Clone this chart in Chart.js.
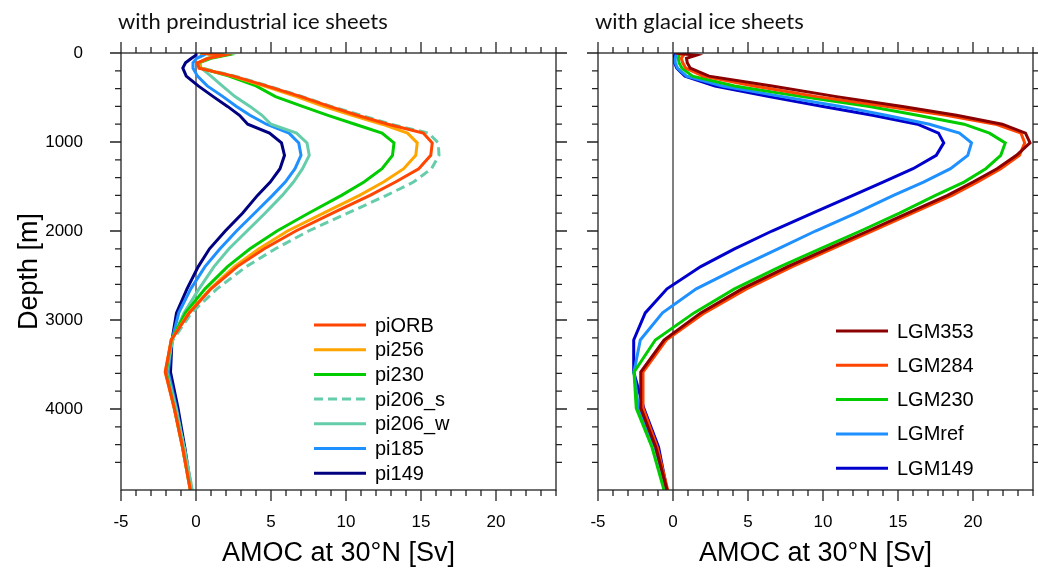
<!DOCTYPE html>
<html>
<head>
<meta charset="utf-8">
<script src="https://cdn.jsdelivr.net/npm/chart.js@4.4.1/dist/chart.umd.min.js"></script>
<style>
  body { margin: 0; background: #fff; }
  #wrap { position: relative; width: 1038px; height: 574px; overflow: hidden; }
  canvas { position: absolute; top: 0; }
  #left { left: 0; }
  #right { left: 458px; }
</style>
</head>
<body>
<div id="wrap">
  <canvas id="left" width="580" height="574"></canvas>
  <canvas id="right" width="600" height="574"></canvas>
</div>
<script>
// depth levels [m] shared by all profiles
var depthLevels = [0, 25, 60, 110, 170, 260, 370, 490, 600, 700, 800, 900, 1010, 1150,
                   1300, 1450, 1600, 1800, 2000, 2200, 2400, 2650, 2920, 3225, 3585, 3990, 4430, 4910];

// AMOC at 30N [Sv], preindustrial ice sheets
var piORB   = [0.3, 1.8, 0.8, 0.1, 0.2, 2.5, 4.7, 7.0, 8.9, 10.75, 12.8, 15.15, 15.75, 15.65, 14.85, 13.3, 11.6, 9.1, 6.65, 4.55, 2.75, 1.0, -0.45, -1.65, -2.05, -1.45, -0.9, -0.38];
var pi256   = [0.3, 1.7, 0.8, 0.15, 0.3, 2.4, 4.5, 6.7, 8.5, 10.4, 12.4, 14.1, 14.75, 14.65, 13.85, 12.5, 10.9, 8.5, 6.1, 4.2, 2.55, 0.95, -0.5, -1.65, -2.05, -1.45, -0.9, -0.38];
var pi230   = [0.4, 2.0, 1.0, 0.2, 0.3, 2.2, 4.0, 5.3, 7.1, 8.8, 10.6, 12.4, 13.2, 13.1, 12.4, 11.2, 9.7, 7.5, 5.4, 3.6, 2.1, 0.6, -0.7, -1.65, -2.0, -1.45, -0.9, -0.38];
var pi206_s = [0.3, 1.8, 0.8, 0.2, 0.4, 2.6, 4.8, 7.1, 9.0, 11.0, 13.0, 15.5, 16.15, 16.2, 15.7, 14.5, 12.7, 10.1, 7.5, 5.3, 3.35, 1.4, -0.3, -1.55, -2.0, -1.35, -0.8, -0.25];
var pi206_w = [0.3, 1.7, 0.7, 0.2, 0.35, 1.0, 1.75, 2.6, 3.6, 4.4, 5.0, 6.7, 7.4, 7.55, 7.1, 6.5, 5.75, 4.6, 3.4, 2.2, 1.2, 0.2, -0.8, -1.6, -1.95, -1.35, -0.8, -0.25];
var pi185   = [0.3, 0.5, 0.05, -0.2, -0.2, 0.1, 0.75, 1.8, 2.7, 3.6, 4.7, 6.2, 6.85, 7.0, 6.6, 5.95, 5.1, 3.9, 2.7, 1.6, 0.6, -0.35, -1.15, -1.6, -1.85, -1.3, -0.8, -0.3];
var pi149   = [0.0, 0.0, -0.3, -0.7, -0.88, -0.65, 0.15, 1.15, 2.1, 2.9, 3.45, 4.9, 5.7, 5.9, 5.6, 4.95, 4.1, 3.1, 1.95, 0.9, 0.15, -0.6, -1.3, -1.6, -1.7, -1.2, -0.75, -0.3];

// AMOC at 30N [Sv], glacial ice sheets
var LGM353 = [0.15, 1.55, 0.9, 0.95, 1.15, 2.4, 6.6, 10.9, 15.3, 18.9, 21.95, 23.5, 23.8, 22.9, 21.6, 20.0, 18.3, 15.65, 13.0, 10.3, 7.65, 4.6, 1.85, -0.6, -2.15, -2.15, -1.15, -0.4];
var LGM284 = [0.35, 0.7, 0.55, 0.65, 0.85, 2.0, 5.4, 9.6, 14.3, 18.2, 21.5, 23.2, 23.45, 23.1, 21.85, 20.3, 18.6, 15.95, 13.3, 10.6, 7.95, 4.9, 2.1, -0.45, -2.0, -2.0, -1.05, -0.35];
var LGM230 = [0.45, 0.4, 0.35, 0.4, 0.6, 1.3, 4.1, 8.6, 13.1, 16.3, 19.4, 21.1, 22.15, 21.85, 20.85, 19.4, 17.5, 15.1, 12.5, 9.8, 7.15, 4.1, 1.4, -1.18, -2.6, -2.45, -1.4, -0.6];
var LGMref = [0.3, 0.2, 0.15, 0.15, 0.3, 0.9, 3.3, 7.3, 11.2, 14.2, 17.1, 19.1, 19.9, 19.65, 18.5, 16.7, 14.7, 12.2, 9.5, 7.0, 4.5, 1.55, -0.7, -2.18, -2.6, -2.3, -1.2, -0.4];
var LGM149 = [0.2, 0.1, 0.1, 0.1, 0.25, 0.8, 2.8, 6.4, 10.0, 13.3, 16.3, 17.7, 18.05, 17.55, 16.0, 14.0, 12.0, 9.3, 6.6, 4.1, 1.85, -0.4, -1.85, -2.62, -2.62, -1.95, -0.96, -0.4];

var amocRange = [-5, 24];
var xMajorEvery = 5;
var yMajorEvery = 1000;
var sansFont = '"Liberation Sans", Arial, sans-serif';

function profile(values) {
  return values.map(function(v, i) { return { x: v, y: depthLevels[i] }; });
}

function line(label, values, color, dash) {
  return {
    label: label,
    data: profile(values),
    borderColor: color,
    backgroundColor: color,
    borderWidth: 3,
    borderDash: dash || [],
    showLine: true,
    pointRadius: 0,
    tension: 0
  };
}

// frame, zero line and outward ticks on all four sides (NCL look)
var ncarFrame = {
  id: 'ncarFrame',
  beforeDatasetsDraw: function(chart) {
    var ctx = chart.ctx, a = chart.chartArea;
    var x0 = chart.scales.x.getPixelForValue(0);
    ctx.save();
    ctx.strokeStyle = '#000';
    ctx.lineWidth = 1;
    ctx.beginPath();
    ctx.moveTo(x0, a.top);
    ctx.lineTo(x0, a.bottom);
    ctx.stroke();
    ctx.restore();
  },
  afterDatasetsDraw: function(chart) {
    var ctx = chart.ctx, a = chart.chartArea;
    var xs = chart.scales.x, ys = chart.scales.y;
    ctx.save();
    ctx.strokeStyle = '#222';
    ctx.lineWidth = 1.3;
    ctx.strokeRect(a.left, a.top, a.right - a.left, a.bottom - a.top);
    ctx.beginPath();
    xs.ticks.forEach(function(t) {
      if (t.value !== Math.round(t.value)) return;
      var len = t.value % xMajorEvery === 0 ? 11 : 6;
      var px = xs.getPixelForValue(t.value);
      ctx.moveTo(px, a.bottom); ctx.lineTo(px, a.bottom + len);
      ctx.moveTo(px, a.top); ctx.lineTo(px, a.top - len);
    });
    ys.ticks.forEach(function(t) {
      if (t.value % 200 !== 0) return;
      var len = t.value % yMajorEvery === 0 ? 11 : 6;
      var py = ys.getPixelForValue(t.value);
      ctx.moveTo(a.left, py); ctx.lineTo(a.left - len, py);
      ctx.moveTo(a.right, py); ctx.lineTo(a.right + len, py);
    });
    ctx.stroke();
    ctx.restore();
  },
  afterDraw: function(chart, args, opts) {
    var ctx = chart.ctx, a = chart.chartArea;
    ctx.save();
    // panel title
    ctx.fillStyle = '#111';
    ctx.font = '22px Lato';
    ctx.textBaseline = 'middle';
    ctx.textAlign = 'left';
    ctx.fillText(opts.title, a.left - 3, 22);
    // legend inside the plot
    ctx.font = '20px ' + sansFont;
    chart.data.datasets.forEach(function(ds, i) {
      var y = a.top + opts.legendTop + i * opts.legendStep;
      var x = a.left + opts.legendLeft;
      ctx.strokeStyle = ds.borderColor;
      ctx.lineWidth = 3;
      ctx.setLineDash(ds.borderDash);
      ctx.beginPath();
      ctx.moveTo(x, y);
      ctx.lineTo(x + 52, y);
      ctx.stroke();
      ctx.setLineDash([]);
      ctx.fillStyle = '#000';
      ctx.fillText(ds.label, x + 61, y + 1);
    });
    ctx.restore();
  }
};

function panelOptions(showY, panel) {
  return {
    responsive: false,
    animation: false,
    layout: { padding: { top: 53, right: panel.padRight, left: 0, bottom: 0 } },
    plugins: {
      legend: { display: false },
      tooltip: { enabled: false },
      ncarFrame: panel
    },
    scales: {
      x: {
        type: 'linear',
        position: 'bottom',
        min: amocRange[0],
        max: amocRange[1],
        grid: { display: false, drawTicks: false },
        border: { display: false },
        ticks: {
          stepSize: 1,
          autoSkip: false,
          maxRotation: 0,
          padding: 22,
          color: '#000',
          font: { family: sansFont, size: 17 },
          callback: function(v) { return v % xMajorEvery === 0 ? String(v) : ''; }
        },
        title: {
          display: true,
          text: 'AMOC at 30°N [Sv]',
          color: '#000',
          font: { family: sansFont, size: 27 },
          padding: { top: 0, bottom: 4 }
        },
        afterFit: function(s) { s.height = 84; }
      },
      y: {
        type: 'linear',
        position: 'left',
        reverse: true,
        min: 0,
        max: depthLevels[depthLevels.length - 1],
        grid: { display: false, drawTicks: false },
        border: { display: false },
        ticks: {
          display: showY,
          stepSize: 200,
          autoSkip: false,
          padding: 38,
          color: '#000',
          font: { family: sansFont, size: 17 },
          callback: function(v) { return v % yMajorEvery === 0 ? String(v) : ''; }
        },
        title: {
          display: showY,
          text: 'Depth [m]',
          color: '#000',
          font: { family: sansFont, size: 27 },
          padding: { top: 13, bottom: 0 }
        },
        afterFit: function(s) { s.width = panel.axisWidth; }
      }
    }
  };
}

new Chart(document.getElementById('left'), {
  type: 'scatter',
  data: {
    datasets: [
      line('piORB', piORB, '#ff4500'),
      line('pi256', pi256, '#ffa500'),
      line('pi230', pi230, '#00cc00'),
      line('pi206_s', pi206_s, '#66cdaa', [9, 5]),
      line('pi206_w', pi206_w, '#66cdaa'),
      line('pi185', pi185, '#1e90ff'),
      line('pi149', pi149, '#000080')
    ]
  },
  options: panelOptions(true, {
    title: 'with preindustrial ice sheets',
    axisWidth: 121, padRight: 24,
    legendLeft: 193, legendTop: 272, legendStep: 24.7
  }),
  plugins: [ncarFrame]
});

// right canvas runs past the page edge so its plot ends at x = 1033
new Chart(document.getElementById('right'), {
  type: 'scatter',
  data: {
    datasets: [
      line('LGM353', LGM353, '#8b0000'),
      line('LGM284', LGM284, '#ff4500'),
      line('LGM230', LGM230, '#00cc00'),
      line('LGMref', LGMref, '#1e90ff'),
      line('LGM149', LGM149, '#0000cd')
    ]
  },
  options: panelOptions(false, {
    title: 'with glacial ice sheets',
    axisWidth: 140, padRight: 25,
    legendLeft: 238, legendTop: 278, legendStep: 34.3
  }),
  plugins: [ncarFrame]
});
</script>
</body>
</html>
